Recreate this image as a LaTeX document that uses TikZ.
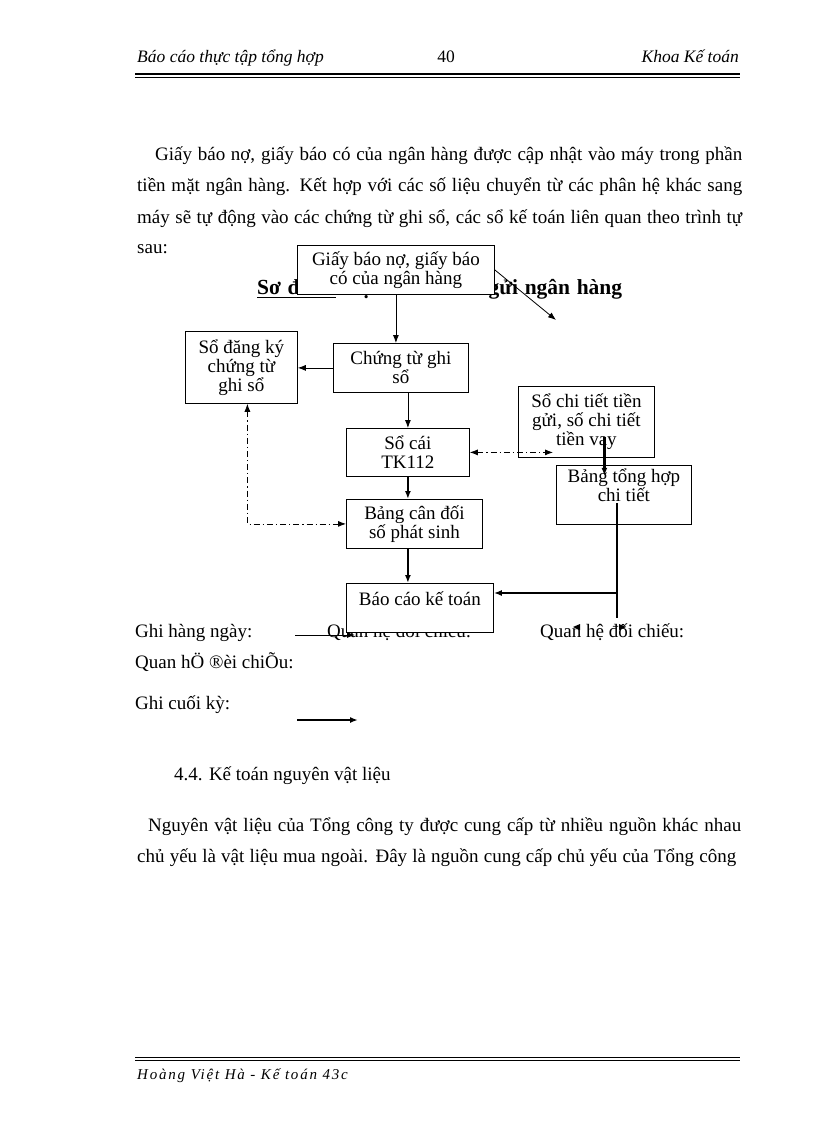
\documentclass[tikz,border=0pt]{standalone}
\usepackage{fontspec}
\setmainfont{Liberation Serif}
\usetikzlibrary{arrows.meta,calc}
\newcommand\bodyfnt{\fontsize{19}{31}\selectfont}
\newcommand\boxfnt{\fontsize{19}{19}\selectfont}
\newcommand\headfnt{\fontsize{17.5}{20}\selectfont\itshape}
\begin{document}
\begin{tikzpicture}[x=1pt,y=-1pt,
  box/.style={draw, line width=0.8pt, fill=white, align=center, inner sep=0pt, font=\boxfnt, anchor=north west},
  txt/.style={anchor=base west, inner sep=0pt, font=\bodyfnt},
  thin/.style={line width=0.8pt},
  thick/.style={line width=2.4pt},
  tip/.style={-{Latex[length=8pt,width=6pt]}},
  dtip/.style={{Latex[length=8pt,width=6pt]}-{Latex[length=8pt,width=6pt]}},
  dashdot/.style={line width=0.8pt, dash pattern=on 6pt off 3pt on 1.2pt off 3pt}]
\useasboundingbox (0,0) rectangle (816,1123);
\fill[white] (0,0) rectangle (816,1123);

% header
\node[txt, font=\headfnt] (h1) at (137,63) {Báo cáo thực tập tổng hợp};
\node[anchor=base, inner sep=0pt, font=\fontsize{17.5}{20}\selectfont] (h2) at (446,63) {40};
\node[anchor=base east, inner sep=0pt, font=\headfnt] (h3) at (739,63) {Khoa Kế toán};
\coordinate (hl1) at (135,74); \coordinate (hr1) at (740,74);
\coordinate (hl2) at (135,77.5); \coordinate (hr2) at (740,77.5);
\draw[line width=1.6pt] (hl1) -- (hr1);
\draw[line width=0.8pt] (hl2) -- (hr2);

% body paragraph
\node[txt] (p1) at (155,161) {\makebox[587pt][s]{Giấy báo nợ, giấy báo có của ngân hàng được cập nhật vào máy trong phần}};
\node[txt] (p2) at (137,192) {\makebox[605pt][s]{tiền mặt ngân hàng. Kết hợp với các số liệu chuyển từ các phân hệ khác sang}};
\node[txt] (p3) at (137,223) {\makebox[605pt][s]{máy sẽ tự động vào các chứng từ ghi sổ, các sổ kế toán liên quan theo trình tự}};
\node[txt] (p4) at (137,254) {sau:};

% title (partly hidden by the first box)
\node[txt, font=\fontsize{21.5}{23}\selectfont\bfseries] (title) at (257,294) {\makebox[365pt][s]{Sơ đồ 7: Hạch toán tiền gửi ngân hàng}};
\coordinate (ul1) at (257,297); \coordinate (ul2) at (336,297);
\draw[line width=1pt] (ul1) -- (ul2);

% legend text hidden by report box
\node[txt] (lg2) at (327,637) {Quan hệ đối chiếu:};

% boxes
\node[box, minimum width=197, minimum height=49] (gbn) at (297,245) {Giấy báo nợ, giấy báo\\có của ngân hàng};
\node[box, minimum width=112, minimum height=72] (sdk) at (185,331) {Sổ đăng ký\\chứng từ\\ghi sổ};
\node[box, minimum width=135, minimum height=49] (ctgs) at (333,343) {Chứng từ ghi\\sổ};
\node[box, minimum width=123, minimum height=48] (sc) at (346,428) {Sổ cái\\TK112};
\node[box, minimum width=136, minimum height=49] (bcd) at (346,499) {Bảng cân đối\\số phát sinh};
\node[box, minimum width=136, minimum height=71] (sct) at (518,386) {Sổ chi tiết tiền\\gửi, số chi tiết\\tiền vay};
\node[box, minimum width=135, minimum height=59] (bth) at (556,465) {Bảng tổng hợp\\chi tiết\\ \mbox{}};
\node[box, minimum width=147, minimum height=49] (bc) at (346,583) {Báo cáo kế toán\\ \mbox{}};

% connectors
\coordinate (diag) at (556,320);
\draw[thin, tip] (gbn.east) -- (diag);
\draw[thin, tip] (gbn.south) -- (gbn.south |- ctgs.north);
\draw[thin, tip] (ctgs.west) -- (ctgs.west -| sdk.east);
\draw[thin, tip] (sc.north |- ctgs.south) -- (sc.north);
\draw[thick, tip] (sc.south) -- (sc.south |- bcd.north);
\draw[thick, tip] (sc.south |- bcd.south) -- (sc.south |- bc.north);
\draw[dashdot, dtip] (sc.east) -- ([xshift=35pt]sct.west |- sc.east);
\draw[dashdot, dtip] ([xshift=6pt]sdk.south) |- (bcd.west);
\draw[thick, tip] ([xshift=18pt,yshift=21pt]sct.south) -- ([xshift=18pt,yshift=-18pt]sct.south);
\coordinate (js) at (617,503);
\coordinate (jm) at (617,593);
\coordinate (je) at (617,618);
\draw[thick] (js) -- (je);
\draw[thick, tip] (jm) -- (jm -| bc.east);

% legend
\node[txt] (lg1) at (135,637) {Ghi hàng ngày:};
\coordinate (la1) at (295,635); \coordinate (la2) at (355,635);
\draw[thin, tip] (la1) -- (la2);
\node[txt] (lg3) at (540,637) {Quan hệ đối chiếu:};
\coordinate (t1) at (573,627); \coordinate (t2) at (626,627);
\fill (t1) -- ++(7,-3) -- ++(0,6) -- cycle;
\fill (t2) -- ++(-7,-3) -- ++(0,6) -- cycle;
\node[txt] (lg4) at (135,668) {Quan hÖ ®èi chiÕu:};
\node[txt] (lg5) at (135,709) {Ghi cuối kỳ:};
\coordinate (lb1) at (297,720); \coordinate (lb2) at (358,720);
\draw[thick, tip] (lb1) -- (lb2);

% following text
\node[txt] (s44) at (174,780) {4.4. Kế toán nguyên vật liệu};
\node[txt] (q1) at (148,831) {\makebox[593pt][s]{Nguyên vật liệu của Tổng công ty được cung cấp từ nhiều nguồn khác nhau}};
\node[txt] (q2) at (137,862) {\makebox[599pt][s]{chủ yếu là vật liệu mua ngoài. Đây là nguồn cung cấp chủ yếu của Tổng công}};

% footer
\coordinate (fl1) at (135,1057); \coordinate (fr1) at (740,1057);
\coordinate (fl2) at (135,1060.5); \coordinate (fr2) at (740,1060.5);
\draw[line width=1pt] (fl1) -- (fr1);
\draw[line width=1pt] (fl2) -- (fr2);
\node[txt, font=\fontsize{15}{18}\selectfont\itshape\addfontfeatures{LetterSpace=12}] (foot) at (137,1079) {Hoàng Việt Hà - Kế toán 43c};
\end{tikzpicture}
\end{document}
